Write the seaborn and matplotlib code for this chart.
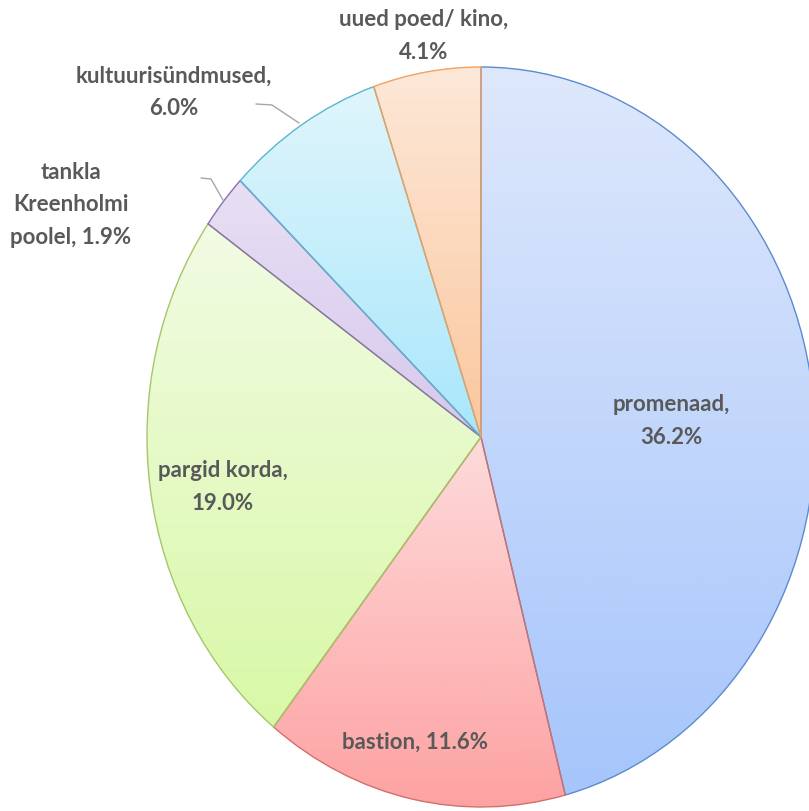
import numpy as np
import matplotlib
matplotlib.use("Agg")
import matplotlib.pyplot as plt
import seaborn as sns

# ---- data ----
categories = ["promenaad", "bastion", "pargid korda", "tankla\nKreenholmi\npoolel",
              "kultuurisündmused", "uued poed/ kino"]
values = [36.2, 11.6, 19.0, 1.9, 6.0, 4.1]
label_texts = ["promenaad,\n36.2%", "bastion, 11.6%", "pargid korda,\n19.0%",
               "tankla\nKreenholmi\npoolel, 1.9%", "kultuurisündmused,\n6.0%",
               "uued poed/ kino,\n4.1%"]

# ---- styles ----
edge_colors = ["#5b8bd0", "#d0706d", "#a6c66a", "#8a70ab", "#5ab6cf", "#f0a060"]
grad_top = ["#dee8fb", "#fddbdb", "#f2fbe4", "#e8dff4", "#e0f5fc", "#fde8d8"]
grad_bot = ["#a6c5fb", "#fda2a2", "#d8f8a6", "#d6c8ed", "#a8e7fb", "#fbc79e"]

# label centres in pixels (x from left, y from top)
label_px = [(671, 421), (415, 742), (223, 487), (71, 205), (174, 92), (424, 36)]
# leader lines in pixels
leaders = {3: [(201, 179), (211, 180), (223, 201)],
           4: [(256, 105), (272, 106), (299, 124)]}

W, H = 809, 812
cx, cy, rx, ry = 481, 438, 334, 370

sns.set_style("white")
plt.rcParams["font.family"] = ["Lato", "DejaVu Sans"]

fig = plt.figure(figsize=(W / 100, H / 100), dpi=100)
ax = fig.add_axes([0, 0, 1, 1])

wedges, _ = ax.pie(values, startangle=90, counterclock=False,
                   wedgeprops=dict(linewidth=1.0))

xlim = (-cx / rx, (W - cx) / rx)
ylim = (-(H - cy) / ry, cy / ry)

for i, w in enumerate(wedges):
    w.set_facecolor("none")
    w.set_edgecolor(edge_colors[i])
    w.set_zorder(3)
    ext = w.get_path().get_extents()
    cmap = sns.blend_palette([grad_bot[i], grad_top[i]], n_colors=256, as_cmap=True)
    grad = np.linspace(0, 1, 256).reshape(-1, 1)
    im = ax.imshow(grad, cmap=cmap, origin="lower", aspect="auto",
                   extent=(ext.x0, ext.x1, ext.y0, ext.y1), zorder=2,
                   interpolation="bilinear")
    im.set_clip_path(w)


def px2data(px, py):
    return (px - cx) / rx, (cy - py) / ry


for i, txt in enumerate(label_texts):
    x, y = px2data(*label_px[i])
    ax.text(x, y, txt, ha="center", va="center", fontsize=16, fontweight="bold",
            color="#595959", linespacing=1.66, zorder=5)

for i, pts in leaders.items():
    d = [px2data(*p) for p in pts]
    ax.plot([p[0] for p in d], [p[1] for p in d], color="#a6a6a6", lw=1.0, zorder=4)

ax.set_xlim(*xlim)
ax.set_ylim(*ylim)
ax.set_aspect("auto")
ax.axis("off")

fig.savefig("out.png", dpi=100)
